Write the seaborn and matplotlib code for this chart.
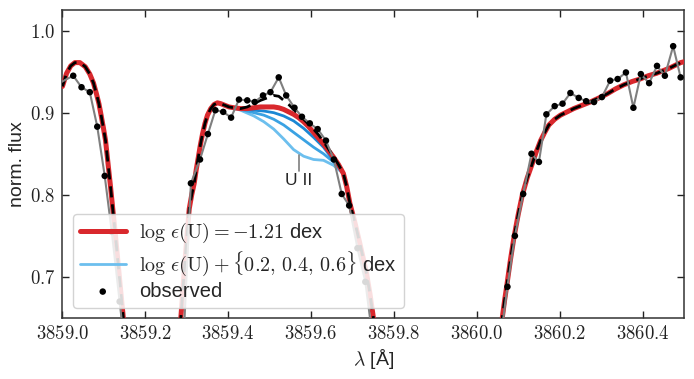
import numpy as np
import pandas as pd
import seaborn as sns
import matplotlib
matplotlib.use("Agg")
import matplotlib.pyplot as plt
from matplotlib.ticker import MultipleLocator, FuncFormatter

# ---------------- data ----------------
obs_wave = [3858.988, 3859.026, 3859.046, 3859.066, 3859.084, 3859.102, 3859.119, 3859.138,
            3859.157, 3859.291,
            3859.310, 3859.332, 3859.351, 3859.369, 3859.388, 3859.407, 3859.426, 3859.446,
            3859.464, 3859.484, 3859.502, 3859.522, 3859.540, 3859.560, 3859.578, 3859.597,
            3859.616, 3859.636, 3859.655, 3859.674, 3859.692, 3859.712, 3859.731, 3859.750,
            3860.055,
            3860.074, 3860.092, 3860.112, 3860.132, 3860.150, 3860.168, 3860.188, 3860.207,
            3860.226, 3860.246, 3860.264, 3860.283, 3860.302, 3860.322, 3860.340, 3860.360,
            3860.378, 3860.396, 3860.416, 3860.435, 3860.454, 3860.474, 3860.492]
obs_flux = [0.935, 0.945, 0.931, 0.925, 0.883, 0.823, 0.755, 0.670,
            0.585, 0.610,
            0.814, 0.843, 0.874, 0.903, 0.901, 0.894, 0.916, 0.915,
            0.913, 0.921, 0.925, 0.943, 0.921, 0.906, 0.895, 0.887,
            0.880, 0.866, 0.843, 0.801, 0.787, 0.735, 0.694, 0.620,
            0.615,
            0.688, 0.750, 0.801, 0.850, 0.840, 0.898, 0.908, 0.911,
            0.924, 0.918, 0.914, 0.913, 0.919, 0.939, 0.941, 0.949,
            0.906, 0.947, 0.936, 0.957, 0.945, 0.981, 0.943]

model_wave = [3859.000, 3859.010, 3859.020, 3859.030, 3859.042, 3859.055, 3859.066, 3859.075,
              3859.082, 3859.088, 3859.094, 3859.099, 3859.104, 3859.110, 3859.116, 3859.122,
              3859.128, 3859.134, 3859.140, 3859.146, 3859.155, 3859.170, 3859.200, 3859.230,
              3859.260, 3859.275, 3859.286, 3859.291, 3859.296, 3859.301, 3859.306, 3859.312,
              3859.318, 3859.323, 3859.328, 3859.333, 3859.338, 3859.344, 3859.350, 3859.358,
              3859.366, 3859.374, 3859.382, 3859.392, 3859.402, 3859.414, 3859.430, 3859.446,
              3859.462, 3859.478, 3859.494, 3859.510, 3859.522, 3859.534, 3859.546, 3859.558,
              3859.570, 3859.582, 3859.594, 3859.606, 3859.618, 3859.630, 3859.642, 3859.654,
              3859.666, 3859.678, 3859.686, 3859.694, 3859.704, 3859.714, 3859.724, 3859.734,
              3859.742, 3859.750, 3859.765, 3859.800, 3859.900, 3860.000, 3860.040, 3860.062,
              3860.067, 3860.072, 3860.081, 3860.090, 3860.100, 3860.110, 3860.122, 3860.134,
              3860.144, 3860.154, 3860.164, 3860.174, 3860.188, 3860.202, 3860.218, 3860.234,
              3860.254, 3860.274, 3860.295, 3860.315, 3860.335, 3860.355, 3860.375, 3860.394,
              3860.414, 3860.434, 3860.464, 3860.492, 3860.500]
model_best = [0.932, 0.948, 0.957, 0.961, 0.961, 0.956, 0.947, 0.936,
              0.923, 0.911, 0.895, 0.881, 0.866, 0.838, 0.810, 0.780,
              0.750, 0.718, 0.686, 0.655, 0.600, 0.500, 0.380, 0.400,
              0.520, 0.600, 0.652, 0.687, 0.721, 0.753, 0.783, 0.800,
              0.814, 0.831, 0.846, 0.861, 0.874, 0.887, 0.897, 0.905,
              0.910, 0.912, 0.911, 0.909, 0.907, 0.906, 0.905, 0.905,
              0.906, 0.907, 0.907, 0.907, 0.906, 0.904, 0.901, 0.898,
              0.894, 0.889, 0.883, 0.876, 0.869, 0.862, 0.854, 0.846,
              0.837, 0.826, 0.810, 0.789, 0.770, 0.749, 0.727, 0.704,
              0.680, 0.652, 0.580, 0.420, 0.250, 0.380, 0.560, 0.652,
              0.671, 0.688, 0.720, 0.749, 0.776, 0.800, 0.821, 0.838,
              0.853, 0.866, 0.876, 0.885, 0.892, 0.897, 0.901, 0.905,
              0.909, 0.913, 0.918, 0.923, 0.929, 0.934, 0.938, 0.941,
              0.945, 0.948, 0.954, 0.961, 0.962]
model_noU = [0.932, 0.948, 0.957, 0.961, 0.961, 0.956, 0.947, 0.936,
             0.923, 0.911, 0.895, 0.881, 0.866, 0.838, 0.810, 0.780,
             0.750, 0.718, 0.686, 0.655, 0.600, 0.500, 0.380, 0.400,
             0.520, 0.600, 0.652, 0.687, 0.721, 0.753, 0.783, 0.800,
             0.814, 0.831, 0.846, 0.861, 0.874, 0.887, 0.897, 0.905,
             0.910, 0.912, 0.911, 0.909, 0.907, 0.906, 0.905, 0.907,
             0.911, 0.915, 0.918, 0.921, 0.920, 0.915, 0.910, 0.904,
             0.898, 0.892, 0.886, 0.880, 0.873, 0.865, 0.856, 0.847,
             0.837, 0.826, 0.810, 0.789, 0.770, 0.749, 0.727, 0.704,
             0.680, 0.652, 0.580, 0.420, 0.250, 0.380, 0.560, 0.652,
             0.671, 0.688, 0.720, 0.749, 0.776, 0.800, 0.821, 0.838,
             0.853, 0.866, 0.876, 0.885, 0.892, 0.897, 0.901, 0.905,
             0.909, 0.913, 0.918, 0.923, 0.929, 0.934, 0.938, 0.941,
             0.945, 0.948, 0.954, 0.961, 0.962]

blue_wave = [3859.402, 3859.430, 3859.462, 3859.486, 3859.510, 3859.534, 3859.558,
             3859.582, 3859.606, 3859.630, 3859.654, 3859.668, 3859.678]
blue_p02 = [0.907, 0.905, 0.903, 0.902, 0.900, 0.896, 0.890, 0.881, 0.870, 0.858, 0.842, 0.834, 0.826]
blue_p04 = [0.907, 0.904, 0.900, 0.897, 0.892, 0.885, 0.876, 0.867, 0.858, 0.850, 0.840, 0.832, 0.826]
blue_p06 = [0.907, 0.903, 0.896, 0.889, 0.880, 0.868, 0.855, 0.847, 0.843, 0.842, 0.836, 0.830, 0.826]

label_best = r'$\log\,\epsilon(\mathrm{U}) = -1.21$ dex'
label_var = r'$\log\,\epsilon(\mathrm{U}) + \{0.2,\,0.4,\,0.6\}$ dex'
label_obs = 'observed'
line_label = 'U II'
line_wave = 3859.570

# ---------------- plotting ----------------
sns.set_style('ticks')
plt.rcParams['font.family'] = ['Liberation Sans', 'DejaVu Sans']
plt.rcParams['mathtext.fontset'] = 'cm'

fig = plt.figure(figsize=(6.94, 3.79), dpi=100)
ax = fig.add_axes([0.090, 0.161, 0.8955, 0.8125])

df_obs = pd.DataFrame({'wave': obs_wave, 'flux': obs_flux})
df_mod = pd.DataFrame({'wave': model_wave, 'best': model_best, 'noU': model_noU})
df_blue = pd.DataFrame({'wave': blue_wave, 'p02': blue_p02, 'p04': blue_p04, 'p06': blue_p06})

blue_cols = {'p02': '#1a87d4', 'p04': '#3aa2e3', 'p06': '#6cbfee'}
for key in ['p06', 'p04', 'p02']:
    sns.lineplot(data=df_blue, x='wave', y=key, ax=ax, color=blue_cols[key], lw=2.0,
                 estimator=None, sort=False, zorder=2,
                 label=label_var if key == 'p06' else None, legend=False)

sns.lineplot(data=df_mod, x='wave', y='best', ax=ax, color='#d9282d', lw=3.6,
             estimator=None, sort=False, zorder=3, label=label_best, legend=False)
sns.lineplot(data=df_mod, x='wave', y='noU', ax=ax, color='black', lw=2.0,
             estimator=None, sort=False, zorder=4, legend=False)
ax.lines[-1].set_dashes([4, 2.5])

sns.lineplot(data=df_obs, x='wave', y='flux', ax=ax, color='#7f7f7f', lw=1.5,
             estimator=None, sort=False, zorder=5, legend=False)
sns.scatterplot(data=df_obs, x='wave', y='flux', ax=ax, color='black', s=22,
                edgecolor='none', zorder=6, label=label_obs, legend=False)

# U II line marker
ax.plot([line_wave, line_wave], [0.848, 0.829], color='#7f7f7f', lw=1.2, zorder=5)
ax.text(line_wave, 0.818, line_label, ha='center', va='center', fontsize=12.5)

ax.set_xlim(3859.0, 3860.5)
ax.set_ylim(0.65, 1.025)
ax.xaxis.set_major_locator(MultipleLocator(0.2))
ax.yaxis.set_major_locator(MultipleLocator(0.1))
ax.xaxis.set_major_formatter(FuncFormatter(lambda v, p: f'${v:.1f}$'))
ax.yaxis.set_major_formatter(FuncFormatter(lambda v, p: f'${v:.1f}$'))
ax.tick_params(direction='in', top=True, right=True, length=5, width=1,
               labelsize=13.5, colors='#222222', labelcolor='#222222', pad=5)
for sp in ax.spines.values():
    sp.set_linewidth(1.1)
    sp.set_color('#333333')

ax.set_xlabel(r'$\lambda$ [Å]', fontsize=14, labelpad=3)
ax.set_ylabel('norm. flux', fontsize=14, labelpad=3)

handles, labels = ax.get_legend_handles_labels()
order = [labels.index(label_best), labels.index(label_var), labels.index(label_obs)]
leg = ax.legend([handles[i] for i in order], [labels[i] for i in order], loc='lower left',
                fontsize=14.5, handlelength=2.3, frameon=True, framealpha=0.85,
                edgecolor='#cccccc', borderpad=0.35, labelspacing=0.2, handletextpad=0.65,
                borderaxespad=0.5)
leg.set_zorder(10)

fig.savefig('out.png', dpi=100)
